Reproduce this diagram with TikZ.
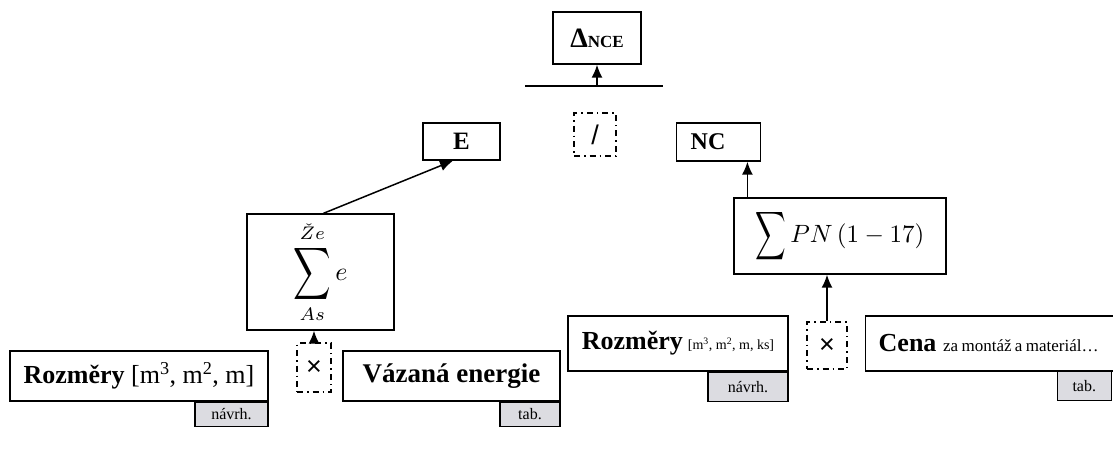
\RequirePackage{fix-cm}
\documentclass[tikz,border=0pt]{standalone}
\usepackage{graphicx}
\usepackage{fontspec}
\setmainfont{Liberation Serif}
\newfontfamily\sansf{Liberation Sans}
\usetikzlibrary{arrows.meta,calc}
\definecolor{tabgray}{RGB}{220,220,225}
\newcommand{\tallsum}[2]{\mathop{\vcenter{\hbox{\scalebox{#1}[#2]{$\displaystyle\sum$}}}}}
\begin{document}
\begin{tikzpicture}[x=1pt,y=-1pt,
  box/.style={draw, line width=1.4pt, fill=white, inner sep=0pt, rectangle},
  opbox/.style={draw, line width=1.3pt, dash pattern=on 6pt off 4pt on 1.5pt off 4pt, inner sep=0pt, font=\sansf\fontsize{27}{29}\selectfont},
  tabbox/.style={draw, line width=1.4pt, fill=tabgray, inner sep=0pt, font=\fontsize{16}{18}\selectfont},
  arr/.style={line width=1.5pt, -{Latex[length=13pt,width=11pt]}},
  ]
\path[use as bounding box, clip] (0,0) rectangle (1113,456);

% top
\node[box, minimum width=88pt, minimum height=52pt] (nce) at (597,38)
  {{\bfseries\fontsize{28}{30}\selectfont Δ}{\bfseries\fontsize{17}{19}\selectfont NCE}};
\coordinate (hl) at (525,86);
\coordinate (hr) at (663,86);
\draw[line width=1.4pt] (hl) -- (hr);
\draw[arr] (nce.south |- hl) -- (nce.south);
\node[opbox, minimum width=42pt, minimum height=43pt] (div) at (595,134.5) {/};

% E and NC
\node[box, minimum width=77pt, minimum height=37pt, font=\bfseries\fontsize{25}{27}\selectfont] (e) at (461.5,141.5) {E};
\node[box, anchor=west, minimum height=38pt, text width=56pt, inner xsep=14pt, align=left, font=\bfseries\fontsize{24}{26}\selectfont] (nc) at (676,142) {NC};

% left branch
\node[box, minimum width=147pt, minimum height=116pt] (sume) at (320.5,272)
  {\scalebox{2.6}{$\displaystyle\tallsum{1}{1.4}\limits_{As}^{\check{Z}e} e$}};
\coordinate (ein) at ([xshift=-8.5pt]e.south);
\draw[arr] ([xshift=3pt]sume.north) -- (ein);
\node[opbox, minimum width=34pt, minimum height=49pt] (xl) at (314,367.5) {×};
\draw[arr] (xl.north) -- (xl.north |- sume.south);
\node[box, minimum width=258pt, minimum height=50pt, font=\fontsize{26}{28}\selectfont] (rl) at (139,376)
  {\textbf{Rozměry} [m\textsuperscript{3}, m\textsuperscript{2}, m]};
\node[tabbox, anchor=north east, minimum width=73pt, minimum height=24pt] (tl) at (rl.south east) {návrh.};
\node[box, minimum width=217pt, minimum height=50pt, font=\bfseries\fontsize{27}{29}\selectfont] (ve) at (451.5,376) {Vázaná energie};
\node[tabbox, anchor=north east, minimum width=60pt, minimum height=24pt] (tv) at (ve.south east) {tab.};

% right branch
\node[box, minimum width=212pt, minimum height=76pt] (sumpn) at (840,236)
  {\scalebox{2.5}{$\displaystyle\tallsum{0.85}{1.35}PN\,(1-17)$}};
\coordinate (ncin) at ([xshift=-14pt]nc.south east);
\draw[arr] (ncin |- sumpn.north) -- (ncin);
\node[opbox, minimum width=40pt, minimum height=47pt] (xr) at (827,345.5) {×};
\draw[arr] (xr.north) -- (xr.north |- sumpn.south);
\node[box, minimum width=220pt, minimum height=55pt] (rr) at (678,343.5)
  {{\bfseries\fontsize{26}{28}\selectfont Rozměry}\ \ {\fontsize{14}{16}\selectfont [m\textsuperscript{3}, m\textsuperscript{2}, m, ks]}};
\node[tabbox, anchor=north east, minimum width=80pt, minimum height=29pt] (tr) at (rr.south east) {návrh.};
\node[box, anchor=west, minimum height=55pt, text width=225pt, inner xsep=13pt, align=left] (cena) at (865,343.5)
  {{\bfseries\fontsize{26}{28}\selectfont Cena}\ \ {\fontsize{17}{19}\selectfont za montáž a materiál…}};
\node[tabbox, anchor=north east, minimum width=54pt, minimum height=29pt] (tc) at (1112,371) {tab.};
\end{tikzpicture}
\end{document}
